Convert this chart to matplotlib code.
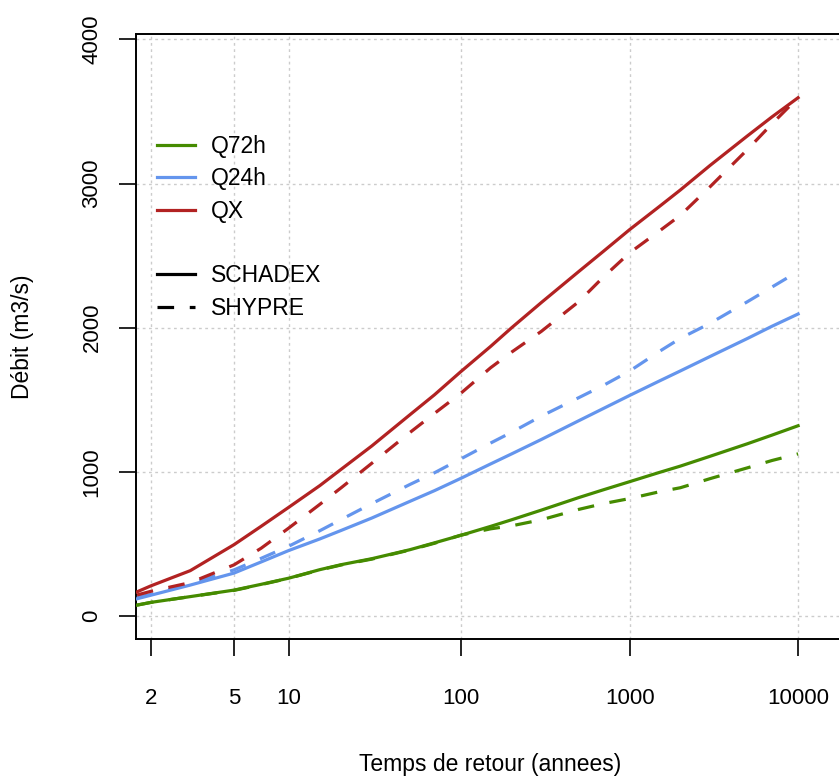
import numpy as np
import matplotlib
matplotlib.use("Agg")
import matplotlib.pyplot as plt
from matplotlib.ticker import FixedLocator, NullLocator
from matplotlib.lines import Line2D

plt.rcParams['font.family'] = ['Liberation Sans', 'DejaVu Sans']

# Return periods (years) and discharge quantiles (m3/s)
periods = [1.76, 2, 3, 5, 7, 10, 15, 20, 30, 50, 70, 100, 150, 200, 300,
           500, 700, 1000, 1500, 2000, 3000, 5000, 7000, 10000]

qx_schadex = [168, 210, 315, 495, 622, 755, 905, 1020, 1180, 1395, 1535, 1695,
              1870, 2000, 2175, 2390, 2530, 2680, 2840, 2955, 3125, 3330, 3462, 3595]
qx_shypre = [146, 172, 232, 355, 470, 611, 775, 892, 1060, 1272, 1406, 1545,
             1722, 1831, 1975, 2181, 2352, 2519, 2670, 2779, 2977, 3235, 3414, 3595]
q24_schadex = [120, 145, 215, 298, 375, 455, 535, 595, 680, 795, 870, 955,
               1055, 1125, 1225, 1355, 1440, 1530, 1630, 1700, 1800, 1925, 2010, 2095]
q24_shypre = [130, 150, 225, 320, 400, 485, 592, 671, 780, 912, 994, 1090,
              1200, 1275, 1387, 1515, 1600, 1699, 1835, 1926, 2030, 2180, 2282, 2390]
q72_schadex = [76, 95, 135, 180, 220, 263, 322, 357, 398, 460, 508, 560,
               622, 668, 735, 822, 876, 932, 996, 1040, 1108, 1195, 1255, 1320]
q72_shypre = [76, 95, 135, 178, 218, 262, 320, 355, 395, 458, 505, 561,
              605, 626, 668, 740, 780, 815, 862, 890, 953, 1028, 1079, 1125]

x_ticks = [2, 5, 10, 100, 1000, 10000]
y_ticks = [0, 1000, 2000, 3000, 4000]

col72 = '#458B00'
col24 = '#6495ED'
colx = '#B22222'


# Gumbel reduced variate scale for return periods
def gumbel_fwd(T):
    T = np.asarray(T, dtype=float)
    with np.errstate(all='ignore'):
        return -np.log(-np.log(1.0 - 1.0 / T))


def gumbel_inv(u):
    u = np.asarray(u, dtype=float)
    with np.errstate(all='ignore'):
        return 1.0 / (1.0 - np.exp(-np.exp(-u)))


fig = plt.figure(figsize=(8.39, 7.78), dpi=100)
ax = fig.add_axes([136 / 839, 1 - 639 / 778, 714 / 839, 605.3 / 778])
ax.set_xscale('function', functions=(gumbel_fwd, gumbel_inv))

lw = 2.3
dash = (5.2, 4.9)
ax.plot(periods, q72_schadex, color=col72, lw=lw, zorder=3)
ax.plot(periods, q72_shypre, color=col72, lw=lw, dashes=dash, zorder=3)
ax.plot(periods, q24_schadex, color=col24, lw=lw, zorder=3)
ax.plot(periods, q24_shypre, color=col24, lw=lw, dashes=dash, zorder=3)
ax.plot(periods, qx_schadex, color=colx, lw=lw, zorder=3)
ax.plot(periods, qx_shypre, color=colx, lw=lw, dashes=dash, zorder=3)

ax.set_xlim(gumbel_inv(0.161), gumbel_inv(9.92))
ax.set_ylim(-159, 4039)

ax.xaxis.set_major_locator(FixedLocator(x_ticks))
ax.xaxis.set_minor_locator(NullLocator())
ax.set_xticklabels([str(t) for t in x_ticks])
ax.set_yticks(y_ticks)
ax.set_yticklabels([str(t) for t in y_ticks], rotation=90, va='center')

ax.grid(True, color='#CCCCCC', linestyle=(0, (2, 2.5)), lw=1.0, zorder=1)
ax.tick_params(axis='x', length=12.2, width=1.2, pad=23, labelsize=16)
ax.tick_params(axis='y', length=12.2, width=1.2, pad=12, labelsize=16)
for s in ax.spines.values():
    s.set_linewidth(1.4)

fig.text(490 / 839, 1 - 765 / 778, 'Temps de retour (annees)',
         ha='center', va='center', fontsize=16.5)
fig.text(22 / 839, 1 - 337 / 778, 'Débit (m3/s)', rotation=90,
         ha='center', va='center', fontsize=16.5)

handles = [
    Line2D([], [], color=col72, lw=lw),
    Line2D([], [], color=col24, lw=lw),
    Line2D([], [], color=colx, lw=lw),
    Line2D([], [], color='none', lw=0),
    Line2D([], [], color='black', lw=lw),
    Line2D([], [], color='black', lw=lw, dashes=dash),
]
labels = ['Q72h', 'Q24h', 'QX', '', 'SCHADEX', 'SHYPRE']
ax.legend(handles, labels, loc='upper left', bbox_to_anchor=(0.0294, 0.833),
          frameon=False, fontsize=16.5, handlelength=1.65, handletextpad=0.72,
          labelspacing=0.41, borderpad=0, borderaxespad=0)

fig.savefig('out.png', dpi=100)
